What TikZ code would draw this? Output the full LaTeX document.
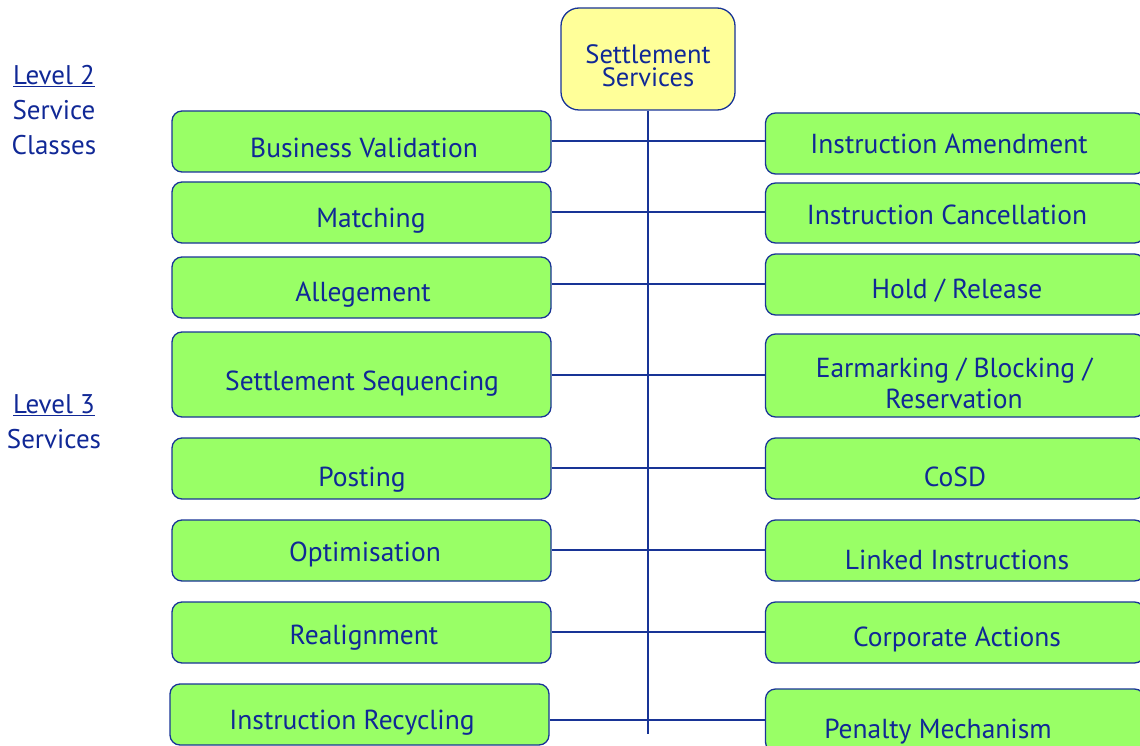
\documentclass[tikz,border=0pt]{standalone}
\usepackage{fontspec}
\setmainfont{PT Sans}
\definecolor{navyline}{RGB}{24,52,150}
\definecolor{navytext}{RGB}{16,40,150}
\definecolor{svcgreen}{RGB}{153,255,102}
\definecolor{svcyellow}{RGB}{255,255,153}
\begin{document}
\begin{tikzpicture}
[x=1pt,y=-1pt,
 svcbox/.style={draw=navyline, fill=svcgreen, line width=1.3pt, rounded corners=10pt,
   minimum width=379pt, inner sep=0pt},
 svctext/.style={text=navytext, font=\fontsize{27.5}{29}\selectfont, inner sep=0pt},
 onetext/.style={svctext, text height=0.7em, text depth=0pt, yshift=-5pt},
 topbox/.style={draw=navyline, fill=svcyellow, line width=1.3pt, rounded corners=18pt,
   minimum width=174pt, minimum height=102pt, inner sep=0pt},
 levellabel/.style={text=navytext, font=\fontsize{27}{35}\selectfont, align=center, inner sep=0pt},
 linkline/.style={draw=navyline, line width=1.2pt}]
\useasboundingbox (0,0) rectangle (1140,746);
%% level labels
\node[levellabel, anchor=north] (lvltwo) at (54,65) {\underline{Level 2}\\Service\\Classes};
\node[levellabel, anchor=north] (lvlthree) at (54,394) {\underline{Level 3}\\Services};
%% trunk
\node[topbox] (settle) at (648,59) {};
\node[svctext, align=center, font=\fontsize{26.5}{23}\selectfont] (settletext) at (648,66) {Settlement\\Services};
\coordinate (trunkend) at (648,734);
\draw[linkline] (settle.south) -- (trunkend);
%% left service boxes
\foreach \name/\xc/\yc/\h/\dx/\dy/\txt in {bv/361.5/141.5/61/2.5/7.5/{Business Validation},
  ma/361.5/212.5/61/9.5/6/Matching, al/361.5/287.5/61/1.5/5.5/Allegement,
  ss/361.5/374.5/85/0.5/7.5/{Settlement Sequencing}, po/361.5/468.5/61/0.5/9.5/Posting,
  op/361.5/550.5/61/3.5/2.5/Optimisation, re/361.5/632.5/61/2.5/3.5/Realignment,
  ir/359.5/714.5/61/-7.5/6.5/{Instruction Recycling}} {
  \node[svcbox, minimum height=\h pt] (\name) at (\xc,\yc) {};
  \node[onetext] (\name-t) at ([xshift=\dx pt, yshift=-\dy pt]\name.center) {\txt};
}
%% right service boxes
\foreach \name/\yc/\h/\dx/\dy/\txt in {ia/143.5/61/-6/1.5/{Instruction Amendment},
  ic/213/60/-8/3/{Instruction Cancellation}, hr/284.5/61/2/5.5/{Hold / Release},
  cs/468.5/61/0/9.5/CoSD, li/550.5/61/2/10.5/{Linked Instructions},
  ca/632.5/61/2/5.5/{Corporate Actions}, pm/720.5/63/-17/9.5/{Penalty Mechanism}} {
  \node[svcbox, minimum height=\h pt] (\name) at (955,\yc) {};
  \node[onetext] (\name-t) at ([xshift=\dx pt, yshift=-\dy pt]\name.center) {\txt};
}
\node[svcbox, minimum height=83pt] (ea) at (955,375.5) {};
\node[svctext, align=center, font=\fontsize{27.5}{31}\selectfont] (ea-t) at (954,383) {Earmarking / Blocking /\\Reservation};
%% branches
\foreach \l/\r/\y in {bv/ia/141, ma/ic/212, al/hr/284, ss/ea/375,
  po/cs/468, op/li/550, re/ca/632, ir/pm/720} {
  \draw[linkline] (\l.east |- 0,\y) -- (\r.west |- 0,\y);
}
\end{tikzpicture}
\end{document}
